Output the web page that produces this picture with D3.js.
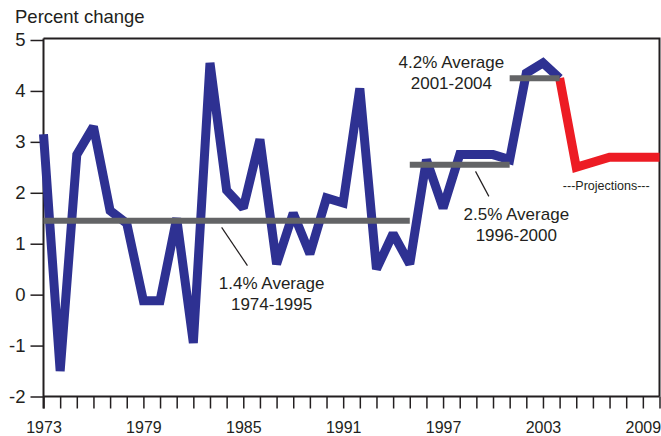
<!DOCTYPE html>
<html><head><meta charset="utf-8">
<script src="https://cdn.jsdelivr.net/npm/d3@7"></script>
<style>
html,body{margin:0;padding:0;background:#fff;}
svg{display:block;font-family:"Liberation Sans",Arial,Helvetica,sans-serif;}
</style></head>
<body>
<svg id="chart" width="661" height="436"></svg>
<script>
const years = [1973,1974,1975,1976,1977,1978,1979,1980,1981,1982,1983,1984,1985,1986,1987,1988,1989,1990,1991,1992,1993,1994,1995,1996,1997,1998,1999,2000,2001,2002,2003,2004];
const actual = [3.15,-1.5,2.75,3.3,1.65,1.4,-0.12,-0.12,1.5,-0.95,4.55,2.05,1.7,3.05,0.6,1.6,0.8,1.9,1.8,4.05,0.5,1.2,0.6,2.65,1.7,2.75,2.75,2.75,2.65,4.35,4.55,4.25];
const projYears = [2004,2005,2006,2007,2008,2009,2010];
const projection = [4.25,2.5,2.6,2.7,2.7,2.7,2.7];
const avgStart = [1973,1995,2001];
const avgEnd = [1995,2001,2004];
const avgValue = [1.45,2.55,4.25];
const yTicks = [-2,-1,0,1,2,3,4,5];
const xLabelYears = [1973,1979,1985,1991,1997,2003,2009];

const svg = d3.select("#chart");
const x = d3.scaleLinear().domain([1973,2010]).range([43.5,659.5]);
const y = d3.scaleLinear().domain([-2,5]).range([396.5,40]);
const ink = "#231f20";

// frame (top and right)
svg.append("path")
  .attr("d", `M${x(1973)},38.5H${x(2010)}V${y(-2)}`)
  .attr("fill","none").attr("stroke",ink).attr("stroke-width",2);

// bottom axis
const xAxis = d3.axisBottom(x)
  .tickValues(d3.range(1973,2011))
  .tickSize(12).tickPadding(13)
  .tickFormat(d => xLabelYears.includes(d) ? String(d) : "");
const gx = svg.append("g").attr("transform",`translate(0,${y(-2)})`).call(xAxis);
gx.select(".domain").attr("d",`M${x(1973)},0H${x(2010)}`).attr("stroke",ink).attr("stroke-width",2);
gx.selectAll(".tick line").attr("stroke",ink).attr("stroke-width",1.5);
gx.selectAll(".tick text").attr("fill",ink).attr("font-size",16).attr("font-family","Liberation Sans, Arial, sans-serif");

// left axis
const yAxis = d3.axisLeft(y).tickValues(yTicks).tickSize(13).tickPadding(5).tickFormat(d => String(d));
const gy = svg.append("g").attr("transform",`translate(${x(1973)},0)`).call(yAxis);
gy.select(".domain").attr("d",`M0,38.5V${y(-2)+12}`).attr("stroke",ink).attr("stroke-width",2);
gy.selectAll(".tick line").attr("stroke",ink).attr("stroke-width",1.5);
gy.selectAll(".tick text").attr("fill",ink).attr("font-size",18.5).attr("font-family","Liberation Sans, Arial, sans-serif");

// title
svg.append("text").attr("x",15).attr("y",23).attr("font-size",18.5).attr("fill",ink).text("Percent change");

const line = d3.line().x(d => x(d[0])).y(d => y(d[1]));

// projection (red)
svg.append("path")
  .datum(projYears.map((yr,i)=>[yr,projection[i]]))
  .attr("d",line).attr("fill","none").attr("stroke","#ed1c24")
  .attr("stroke-width",9).attr("stroke-linejoin","miter").attr("stroke-miterlimit",2);

// actual (blue)
svg.append("path")
  .datum(years.map((yr,i)=>[yr,actual[i]]))
  .attr("d",line).attr("fill","none").attr("stroke","#2e3192")
  .attr("stroke-width",9).attr("stroke-linejoin","miter").attr("stroke-miterlimit",2);

// average lines
svg.selectAll("line.avg").data(avgValue).enter().append("line")
  .attr("class","avg")
  .attr("x1",(d,i)=>x(avgStart[i])).attr("x2",(d,i)=>x(avgEnd[i]))
  .attr("y1",d=>y(d)).attr("y2",d=>y(d))
  .attr("stroke","#636466").attr("stroke-width",6);

// leader lines
const leaders = [[1983.7,1.32,1985.25,0.57],[1998.95,2.42,1999.75,1.93]];
svg.selectAll("line.leader").data(leaders).enter().append("line")
  .attr("x1",d=>x(d[0])).attr("y1",d=>y(d[1])).attr("x2",d=>x(d[2])).attr("y2",d=>y(d[3]))
  .attr("stroke",ink).attr("stroke-width",1.2);

// annotation texts
function note(cx, baseline, lines, size){
  const t = svg.append("text").attr("text-anchor","middle").attr("font-size",size).attr("fill",ink);
  lines.forEach((s,i)=>t.append("tspan").attr("x",cx).attr("y",baseline + i*21).text(s));
}
note(x(1986.7), 289, ["1.4% Average","1974-1995"], 17);
note(x(2001.4), 220, ["2.5% Average","1996-2000"], 17);
note(x(1997.5), 68, ["4.2% Average","2001-2004"], 17);
note(x(2006.8), 190, ["---Projections---"], 12.5);
</script>
</body></html>
